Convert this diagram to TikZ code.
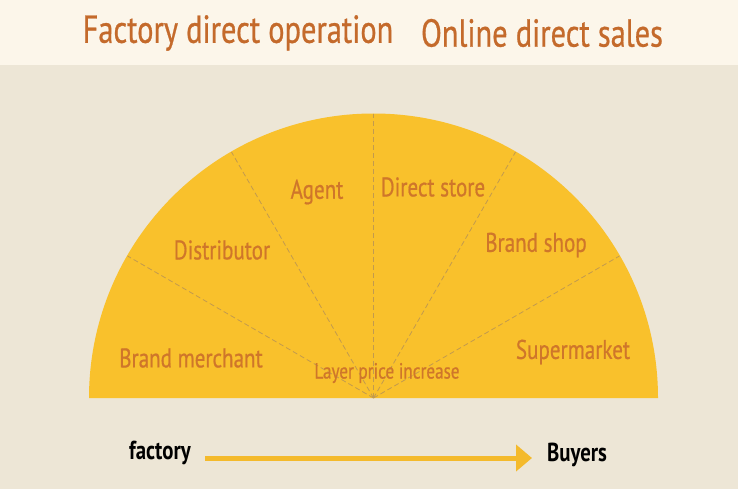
\documentclass[tikz,border=0pt]{standalone}
\usepackage{fontspec}
\setmainfont{PT Sans}
\newfontfamily\tfont{PT Sans}[FakeStretch=0.78, FakeBold=0.6]
\newfontfamily\bfont{PT Sans Bold}[FakeStretch=0.8]
\usetikzlibrary{arrows.meta}
\definecolor{bgc}{HTML}{EDE6D6}
\definecolor{topc}{HTML}{FCF6EA}
\definecolor{fillc}{HTML}{F9C12C}
\definecolor{titlec}{HTML}{C46A2B}
\definecolor{labc}{HTML}{CF762A}
\definecolor{dashc}{HTML}{C29A4E}
\definecolor{arrc}{HTML}{F4BA2C}
\tikzset{
  lab/.style={text=labc, font=\tfont\fontsize{27}{30}\selectfont, inner sep=0pt},
  ttl/.style={text=titlec, font=\tfont\fontsize{39}{42}\selectfont, inner sep=0pt},
  endlab/.style={text=black, font=\bfont\fontsize{26}{29}\selectfont, inner sep=0pt},
  divider/.style={draw=dashc, dash pattern=on 5pt off 3pt, line width=0.8pt}
}
\begin{document}
\begin{tikzpicture}[x=1pt,y=-1pt]
\useasboundingbox (0,0) rectangle (738,489);
\fill[bgc] (0,0) rectangle (738,489);
\fill[topc] (0,0) rectangle (738,65);
\coordinate (c) at (373.5,398);
\fill[fillc] (89,398) arc[start angle=180, end angle=360, radius=284.5] -- cycle;
\foreach \a in {30,60,90,120,150}{
  \draw[divider] (c) -- ++({284*cos(\a)},{-284*sin(\a)});
}
\node[ttl] (t1) at (238,33) {Factory direct operation};
\node[ttl] (t2) at (542,33) {Online direct sales};
\node[lab] (bm) at (191,358) {Brand merchant};
\node[lab] (di) at (222,250) {Distributor};
\node[lab] (ag) at (317,192) {Agent};
\node[lab] (ds) at (433,187) {Direct store};
\node[lab] (bs) at (536,245) {Brand shop};
\node[lab] (sm) at (573,352) {Supermarket};
\node[lab, font=\tfont\fontsize{22}{24}\selectfont] (lp) at (387,373) {Layer price increase};
\node[endlab] (fa) at (160,453) {factory};
\node[endlab] (bu) at (577,455) {Buyers};
\coordinate (as) at (205,458);
\coordinate (ae) at (532,458);
\draw[arrc, line width=5pt, -{Triangle[length=16pt,width=26pt]}] (as) -- (ae);
\end{tikzpicture}
\end{document}
